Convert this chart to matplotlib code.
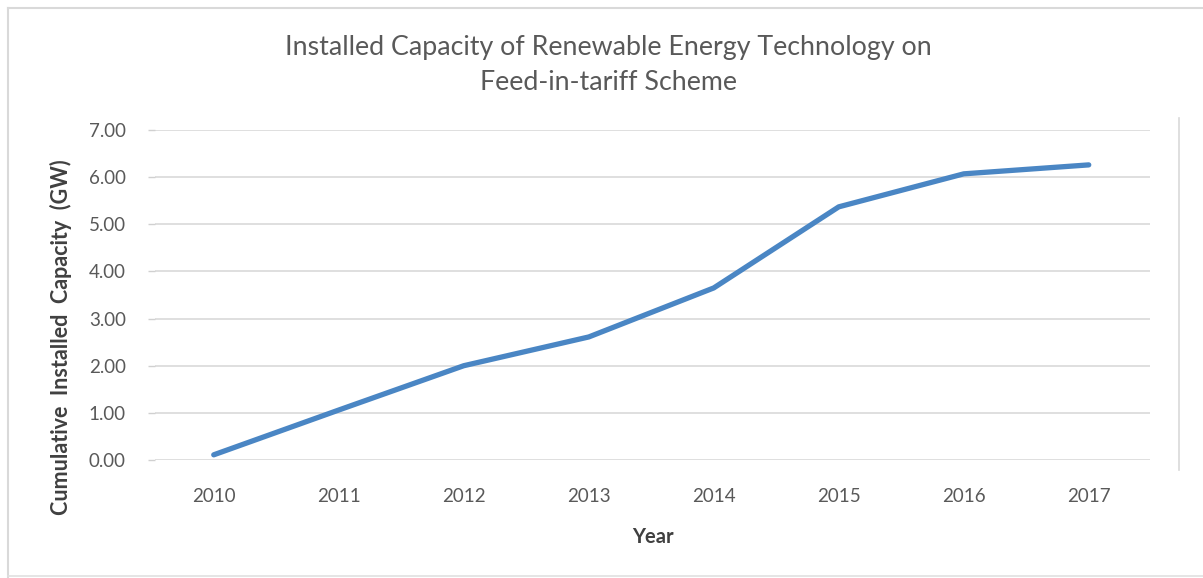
import matplotlib
matplotlib.use("Agg")
import matplotlib.pyplot as plt
from matplotlib.lines import Line2D

years = ["2010", "2011", "2012", "2013", "2014", "2015", "2016", "2017"]
capacity_gw = [0.11, 1.06, 2.00, 2.61, 3.65, 5.37, 6.07, 6.26]
y_ticks = [0, 1, 2, 3, 4, 5, 6, 7]

plt.rcParams['font.family'] = ['Lato', 'DejaVu Sans']

W, H = 1203, 578
fig = plt.figure(figsize=(W / 100, H / 100), dpi=100)
fig.patch.set_facecolor("white")

ax = fig.add_axes([155 / W, 1 - 460 / H, (1150 - 155) / W, (460 - 130) / H])
x = list(range(len(years)))
ax.plot(x, capacity_gw, color="#4A86C4", linewidth=3.8, solid_capstyle="round",
        solid_joinstyle="round", zorder=3)

ax.set_xlim(-0.47, 7.49)
ax.set_ylim(0, 7)
ax.set_yticks(y_ticks)
ax.set_yticklabels([f"{v:.2f}" for v in y_ticks])
ax.set_xticks(x)
ax.set_xticklabels(years)
ax.grid(axis="y", color="#D9D9D9", linewidth=1.2)
ax.set_axisbelow(True)
for s in ax.spines.values():
    s.set_visible(False)
ax.tick_params(axis="y", length=5, width=1, color="#D0D0D0", labelcolor="#595959",
               labelsize=13.5, pad=16)
ax.tick_params(axis="x", length=0, labelcolor="#595959", labelsize=13.5, pad=20)

ax.set_xlabel("Year", fontsize=14.5, fontweight="bold", color="#404040", labelpad=16)
fig.text(61 / W, 1 - 337 / H, "Cumulative  Installed  Capacity  (GW)", rotation=90,
         ha="center", va="center", fontsize=15.5, fontweight="bold", color="#404040")

fig.text(608 / W, 1 - 47 / H, "Installed Capacity of Renewable Energy Technology on",
         ha="center", va="center", fontsize=19.3, color="#595959")
fig.text(608 / W, 1 - 83 / H, "Feed-in-tariff Scheme",
         ha="center", va="center", fontsize=19.3, color="#595959")

# outer chart frame and side line
fig.add_artist(Line2D([8 / W, 8 / W], [0, 1 - 8 / H], transform=fig.transFigure,
                      color="#D9D9D9", linewidth=1.5))
fig.add_artist(Line2D([8 / W, 1], [1 - 8 / H, 1 - 8 / H], transform=fig.transFigure,
                      color="#D9D9D9", linewidth=1.5))
fig.add_artist(Line2D([8 / W, 1], [1 - 576 / H, 1 - 576 / H], transform=fig.transFigure,
                      color="#E0E0E0", linewidth=1.2))
fig.add_artist(Line2D([1179 / W, 1179 / W], [1 - 470 / H, 1 - 118 / H], transform=fig.transFigure,
                      color="#D9D9D9", linewidth=1.2))

fig.savefig("out.png", dpi=100, facecolor="white")
